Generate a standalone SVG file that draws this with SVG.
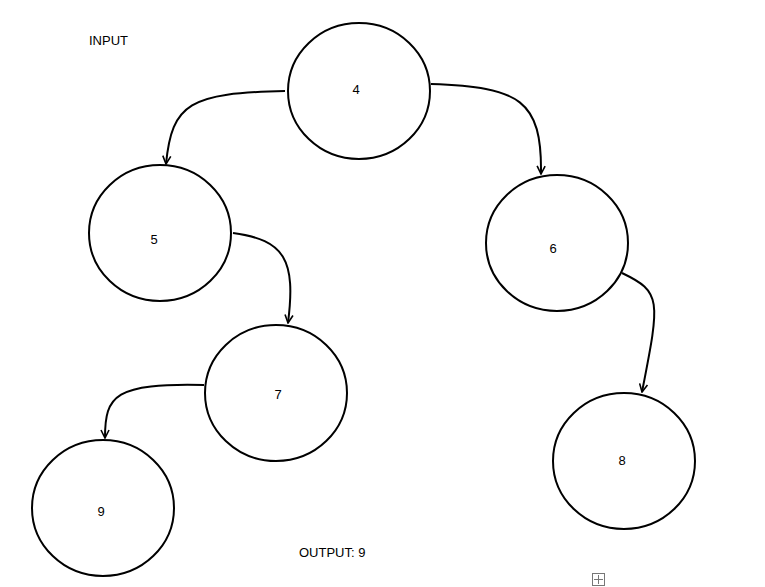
<svg xmlns="http://www.w3.org/2000/svg" width="765" height="587" viewBox="0 0 765 587">
<style>
.n{fill:#fff;stroke:#000;stroke-width:2}
.t{font-family:"Liberation Sans",Arial,sans-serif;font-size:13px;fill:#000}
.c{fill:none;stroke:#000;stroke-width:2}
</style>
<defs>
<marker id="a" viewBox="0 0 10 10" refX="9" refY="5" markerWidth="10" markerHeight="10" markerUnits="userSpaceOnUse" orient="auto">
<path d="M1,1 L9,5 L1,9" fill="none" stroke="#000" stroke-width="1.6"/>
</marker>
</defs>
<rect width="765" height="587" fill="#fff"/>
<text class="t" x="89" y="45">INPUT</text>
<text class="t" x="299" y="557">OUTPUT: 9</text>
<g id="connectors">
<path class="c" marker-end="url(#a)" d="M285,91 C190,93 172,103 166,164"/>
<path class="c" marker-end="url(#a)" d="M431,84 C520,87 542,100 541,174"/>
<path class="c" marker-end="url(#a)" d="M233,233 C285,240 296,260 288,323"/>
<path class="c" marker-end="url(#a)" d="M622,273 C662,292 660,300 642,392"/>
<path class="c" marker-end="url(#a)" d="M204,385 C115,383 105,395 105,438"/>
</g>
<g id="n4"><ellipse class="n" cx="359" cy="91" rx="71" ry="68"/><text class="t" x="356" y="94" text-anchor="middle">4</text></g>
<g id="n5"><ellipse class="n" cx="160" cy="233" rx="71" ry="68"/><text class="t" x="154" y="244" text-anchor="middle">5</text></g>
<g id="n6"><ellipse class="n" cx="557" cy="243" rx="71" ry="68"/><text class="t" x="553" y="253" text-anchor="middle">6</text></g>
<g id="n7"><ellipse class="n" cx="276" cy="393" rx="71" ry="68"/><text class="t" x="278" y="399" text-anchor="middle">7</text></g>
<g id="n8"><ellipse class="n" cx="624" cy="461" rx="71" ry="68"/><text class="t" x="622" y="465" text-anchor="middle">8</text></g>
<g id="n9"><ellipse class="n" cx="103" cy="508" rx="71" ry="68"/><text class="t" x="101" y="516" text-anchor="middle">9</text></g>
<g id="handle" fill="none" stroke="#777" stroke-width="1">
<rect x="592.5" y="573.5" width="12" height="12"/>
<path d="M598.5,575 V584 M594,579.5 H603"/>
</g>
</svg>
